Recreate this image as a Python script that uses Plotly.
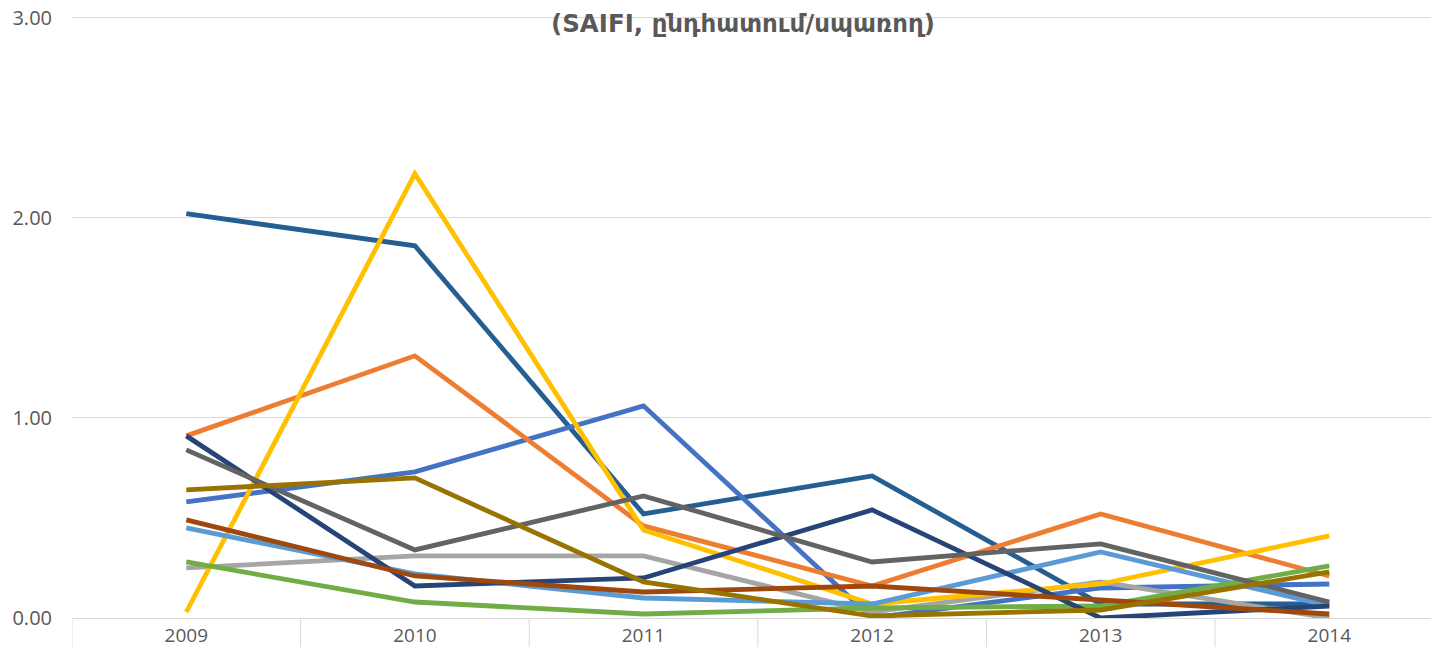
import plotly.graph_objects as go

years = ["2009", "2010", "2011", "2012", "2013", "2014"]

# series values (SAIFI)
s_medblue = [2.02, 1.86, 0.52, 0.71, 0.07, 0.07]
s_blue = [0.58, 0.73, 1.06, 0.00, 0.15, 0.17]
s_orange = [0.91, 1.31, 0.46, 0.16, 0.52, 0.21]
s_gray = [0.25, 0.31, 0.31, 0.03, 0.18, 0.00]
s_gold = [0.03, 2.22, 0.44, 0.07, 0.17, 0.41]
s_lightblue = [0.45, 0.22, 0.10, 0.07, 0.33, 0.06]
s_green = [0.28, 0.08, 0.02, 0.05, 0.06, 0.26]
s_darkblue = [0.91, 0.16, 0.20, 0.54, 0.00, 0.06]
s_darkorange = [0.49, 0.21, 0.13, 0.16, 0.09, 0.02]
s_darkgray = [0.84, 0.34, 0.61, 0.28, 0.37, 0.08]
s_darkgold = [0.64, 0.70, 0.18, 0.01, 0.04, 0.23]

series = [
    (s_medblue, "#255E91"),
    (s_blue, "#4472C4"),
    (s_orange, "#ED7D31"),
    (s_gray, "#A5A5A5"),
    (s_gold, "#FFC000"),
    (s_lightblue, "#5B9BD5"),
    (s_green, "#70AD47"),
    (s_darkblue, "#264478"),
    (s_darkorange, "#9E480E"),
    (s_darkgray, "#636363"),
    (s_darkgold, "#997300"),
]

y_ticks = [0, 1, 2, 3]
y_ticktext = ["0.00", "1.00", "2.00", "3.00"]

xs = list(range(len(years)))

fig = go.Figure()
for vals, col in series:
    fig.add_trace(go.Scatter(
        x=xs, y=vals, mode="lines",
        line=dict(color=col, width=4.8),
        hoverinfo="skip", showlegend=False,
    ))

grid = "#D9D9D9"
txt = "#595959"

W, H = 1431, 639  # page body has an 8px default margin

shapes = []
for i in range(len(years) + 1):
    shapes.append(dict(
        type="line", xref="x", yref="paper",
        x0=i - 0.5, x1=i - 0.5, y0=0, y1=-0.06,
        line=dict(color=grid, width=1), layer="below",
    ))
# top gridline (at the upper edge of the value range)
shapes.append(dict(
    type="line", xref="paper", yref="y",
    x0=0, x1=1, y0=y_ticks[-1], y1=y_ticks[-1],
    line=dict(color=grid, width=1), layer="below",
))

fig.update_layout(
    width=W, height=H,
    margin=dict(l=64, r=0, t=9, b=29),
    paper_bgcolor="white", plot_bgcolor="white",
    font=dict(family="Open Sans, DejaVu Sans", size=18, color=txt),
    title=dict(
        text="(SAIFI, ընդհատում/սպառող)",
        x=735 / W, xref="container", xanchor="center",
        y=1 - 15 / H, yref="container", yanchor="middle",
        font=dict(family="DejaVu Sans", size=24.5, color=txt, weight="bold"),
    ),
    xaxis=dict(
        range=[-0.5, 5.48],
        tickvals=xs, ticktext=years,
        showgrid=False, zeroline=False,
        showline=True, linecolor=grid, linewidth=1,
        ticks="", tickfont=dict(size=19, color=txt),
        automargin=False,
    ),
    yaxis=dict(
        range=[0, 3.003],
        tickvals=y_ticks, ticktext=y_ticktext,
        showgrid=True, gridcolor=grid, gridwidth=1,
        zeroline=False, showline=False,
        ticks="", ticklabelstandoff=19,
        ticklabeloverflow="allow",
        tickfont=dict(size=20, color=txt),
        automargin=False,
    ),
    shapes=shapes,
)

fig.write_html("out.html")
